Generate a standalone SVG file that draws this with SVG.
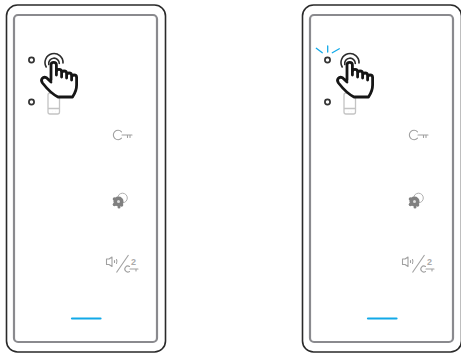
<svg xmlns="http://www.w3.org/2000/svg" width="461" height="354" viewBox="0 0 461 354">
<style>
.outer{fill:none;stroke:#2a2a2a;stroke-width:1.6}
.inner{fill:none;stroke:#8a8a8e;stroke-width:2.2}
.dot{fill:#fff;stroke:#333;stroke-width:1.7}
.ico{fill:none;stroke:#a0a0a0;stroke-width:1.1;stroke-linecap:round;stroke-linejoin:round}
.phone{fill:#fff;stroke:#c4c4c4;stroke-width:1.3}
.hand{fill:#fff;stroke:#161616;stroke-width:2.8;stroke-linejoin:round;stroke-linecap:round}
.arc{fill:none;stroke:#2c2c2c;stroke-width:1.6;stroke-linecap:round}
.blue{fill:none;stroke:#12a9e8;stroke-linecap:round}
.two{font-family:"Liberation Sans",Arial,sans-serif;font-size:9px;font-weight:bold;fill:#aaa}
</style>
<defs>
<g id="panel">
<rect class="outer" x="6.500" y="5" width="159" height="347" rx="11"/>
<rect class="inner" x="14" y="15" width="143" height="327" rx="4"/>
<circle class="dot" cx="31.500" cy="60" r="2.600"/>
<circle class="dot" cx="31.500" cy="102" r="2.600"/>
<rect class="phone" x="48" y="93" width="11.500" height="21" rx="2"/>
<path class="phone" d="M48 108.500H59.500M52 111.500H52.100M55.500 111.500H55.600"/>
<path class="ico" d="M121.500 131.800A4.700 4.700 0 1 0 121.500 138.200M122 135H132M127.500 135V137.500M130 135V137.500" stroke-width="1.300"/>
<g>
<circle cx="122.500" cy="198" r="4.800" fill="none" stroke="#b0b0b0"/>
<circle cx="118.500" cy="201.500" r="5" fill="#808080"/>
<circle cx="118.500" cy="201.500" r="1.500" fill="#ddd"/>
<circle cx="121.500" cy="205" r="1.800" fill="#808080"/>
<circle cx="114.500" cy="204.500" r="1.800" fill="#808080"/>
<circle cx="114.500" cy="199" r="1.800" fill="#808080"/>
<circle cx="119" cy="207" r="1.500" fill="#808080"/>
</g>
<path class="ico" d="M106.500 259H109L112 257V266.500L109 264.500H106.500ZM114.500 260.500V262.500M116.500 259.500Q117.500 261.500 116.500 263.500"/>
<path d="M116.500 272.500L128.500 255" fill="none" stroke="#a0a0a0" stroke-width="1.100"/>
<text class="two" x="131" y="265">2</text>
<path class="ico" d="M129.500 266.500A3 3 0 1 0 129.500 271.500M130 269H138M136 269V271"/>
<path class="blue" stroke-width="2.200" d="M72 318.500H100.500"/>
<path class="arc" d="M46.200 67A9 9 0 1 1 63 63"/>
<path class="arc" d="M48.800 64.500A5.300 5.300 0 1 1 59.300 63.500"/>
<path class="hand" d="M51 80V65A2.700 2.700 0 0 1 56.400 65V75V72A2.600 2.600 0 0 1 61.600 72V77V73.500A2.500 2.500 0 0 1 66.600 73.500V78V75.500A2.500 2.500 0 0 1 71.600 75.500V80V77.500A2.500 2.500 0 0 1 76.600 77.500V85C76.600 91 74.500 94 72.500 97H58C54 95 48 90 42.500 83C40 79.500 43 76 46.500 77.800L51 82"/>
</g>
</defs>
<g id="panel-left"><use href="#panel"/></g>
<g id="panel-right" transform="translate(296 0)"><use href="#panel"/>
<path class="blue" stroke-width="1.300" d="M31.700 46V52M20.300 48.300L26.300 52.700M36.300 52.700L43.300 48.700"/>
</g>
</svg>
